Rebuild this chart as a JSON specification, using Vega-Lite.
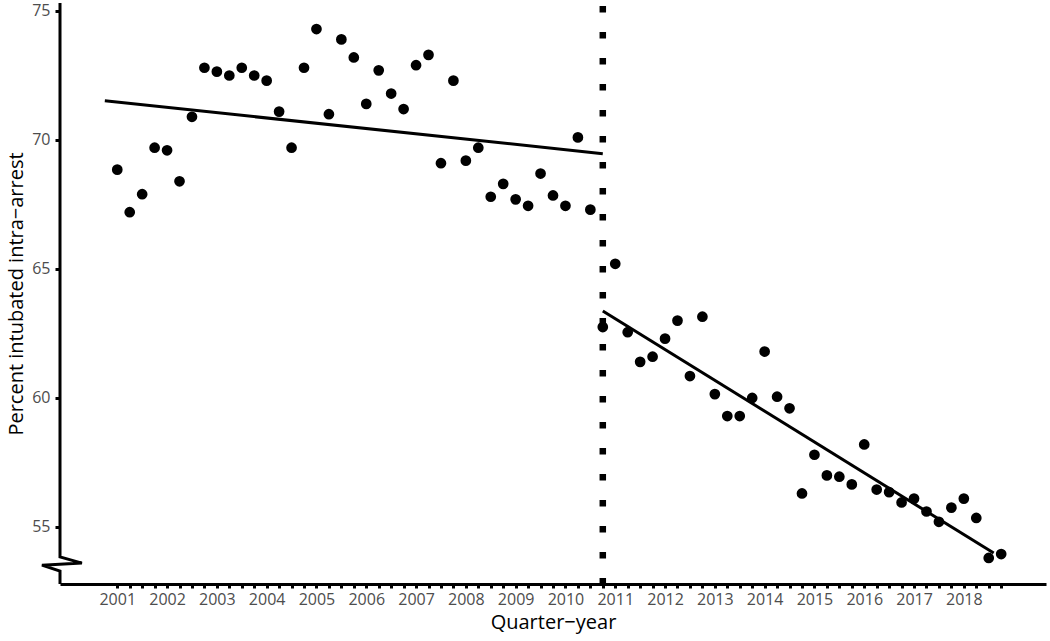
{
  "$schema": "https://vega.github.io/schema/vega-lite/v6.json",
  "width": 986,
  "height": 581,
  "autosize": {"type": "none"},
  "padding": {"left": 60, "top": 3, "right": 4, "bottom": 57},
  "background": "white",
  "config": {
    "view": {"stroke": null},
    "font": "Open Sans",
    "axis": {"grid": false, "labelFont": "Open Sans", "titleFont": "Open Sans", "titleFontWeight": "normal"}
  },
  "datasets": {
    "points": [
      {"q": 0, "pct": 68.85}, {"q": 1, "pct": 67.2}, {"q": 2, "pct": 67.9}, {"q": 3, "pct": 69.7},
      {"q": 4, "pct": 69.6}, {"q": 5, "pct": 68.4}, {"q": 6, "pct": 70.9}, {"q": 7, "pct": 72.8},
      {"q": 8, "pct": 72.65}, {"q": 9, "pct": 72.5}, {"q": 10, "pct": 72.8}, {"q": 11, "pct": 72.5},
      {"q": 12, "pct": 72.3}, {"q": 13, "pct": 71.1}, {"q": 14, "pct": 69.7}, {"q": 15, "pct": 72.8},
      {"q": 16, "pct": 74.3}, {"q": 17, "pct": 71.0}, {"q": 18, "pct": 73.9}, {"q": 19, "pct": 73.2},
      {"q": 20, "pct": 71.4}, {"q": 21, "pct": 72.7}, {"q": 22, "pct": 71.8}, {"q": 23, "pct": 71.2},
      {"q": 24, "pct": 72.9}, {"q": 25, "pct": 73.3}, {"q": 26, "pct": 69.1}, {"q": 27, "pct": 72.3},
      {"q": 28, "pct": 69.2}, {"q": 29, "pct": 69.7}, {"q": 30, "pct": 67.8}, {"q": 31, "pct": 68.3},
      {"q": 32, "pct": 67.7}, {"q": 33, "pct": 67.45}, {"q": 34, "pct": 68.7}, {"q": 35, "pct": 67.85},
      {"q": 36, "pct": 67.45}, {"q": 37, "pct": 70.1}, {"q": 38, "pct": 67.3}, {"q": 39, "pct": 62.75},
      {"q": 40, "pct": 65.2}, {"q": 41, "pct": 62.55}, {"q": 42, "pct": 61.4}, {"q": 43, "pct": 61.6},
      {"q": 44, "pct": 62.3}, {"q": 45, "pct": 63.0}, {"q": 46, "pct": 60.85}, {"q": 47, "pct": 63.15},
      {"q": 48, "pct": 60.15}, {"q": 49, "pct": 59.3}, {"q": 50, "pct": 59.3}, {"q": 51, "pct": 60.0},
      {"q": 52, "pct": 61.8}, {"q": 53, "pct": 60.05}, {"q": 54, "pct": 59.6}, {"q": 55, "pct": 56.3},
      {"q": 56, "pct": 57.8}, {"q": 57, "pct": 57.0}, {"q": 58, "pct": 56.95}, {"q": 59, "pct": 56.65},
      {"q": 60, "pct": 58.2}, {"q": 61, "pct": 56.45}, {"q": 62, "pct": 56.35}, {"q": 63, "pct": 55.95},
      {"q": 64, "pct": 56.1}, {"q": 65, "pct": 55.6}, {"q": 66, "pct": 55.2}, {"q": 67, "pct": 55.75},
      {"q": 68, "pct": 56.1}, {"q": 69, "pct": 55.35}, {"q": 70, "pct": 53.8}, {"q": 71, "pct": 53.95}
    ],
    "fits": [
      {"segment": "before", "q": -1, "pct": 71.52},
      {"segment": "before", "q": 39, "pct": 69.47},
      {"segment": "after", "q": 39, "pct": 63.37},
      {"segment": "after", "q": 70.4, "pct": 53.99}
    ],
    "yaxisline": [
      {"ord": 1, "q": -4.6, "pct": 75.31},
      {"ord": 2, "q": -4.6, "pct": 53.84},
      {"ord": 3, "q": -2.84, "pct": 53.6},
      {"ord": 4, "q": -6.05, "pct": 53.52},
      {"ord": 5, "q": -4.6, "pct": 53.29},
      {"ord": 6, "q": -4.6, "pct": 52.79}
    ],
    "interruption": [
      {"q": 39, "pct": 75.19, "bottom": 52.79}
    ]
  },
  "encoding": {
    "x": {
      "field": "q", "type": "quantitative",
      "scale": {"domain": [-4.6, 74.6], "nice": false, "zero": false},
      "axis": {
        "title": "Quarter−year",
        "values": [0,1,2,3,4,5,6,7,8,9,10,11,12,13,14,15,16,17,18,19,20,21,22,23,24,25,26,27,28,29,30,31,32,33,34,35,36,37,38,39,40,41,42,43,44,45,46,47,48,49,50,51,52,53,54,55,56,57,58,59,60,61,62,63,64,65,66,67,68,69,70,71],
        "labelExpr": "datum.value % 4 == 0 ? toString(2001 + datum.value / 4) : ''",
        "labelOverlap": false,
        "labelFlush": false,
        "labelBound": false,
        "labelFontSize": 16,
        "labelColor": "#4d4d4d",
        "labelPadding": 3,
        "tickSize": 4,
        "tickWidth": 3,
        "tickColor": "black",
        "domain": true,
        "domainWidth": 3,
        "domainColor": "black",
        "titleFontSize": 20,
        "titleColor": "black",
        "titlePadding": 5
      }
    },
    "y": {
      "field": "pct", "type": "quantitative",
      "scale": {"domain": [52.79, 75.31], "nice": false, "zero": false},
      "axis": {
        "title": "Percent intubated intra−arrest",
        "values": [55, 60, 65, 70, 75],
        "domain": false,
        "labelFontSize": 16,
        "labelColor": "#4d4d4d",
        "labelPadding": 5,
        "tickSize": 5,
        "tickWidth": 3,
        "tickColor": "black",
        "titleFontSize": 20,
        "titleColor": "black",
        "titlePadding": 5
      }
    }
  },
  "layer": [
    {
      "data": {"name": "yaxisline"},
      "mark": {"type": "line", "color": "black", "strokeWidth": 3, "clip": false, "strokeJoin": "miter"},
      "encoding": {
        "order": {"field": "ord", "type": "quantitative"}
      }
    },
    {
      "data": {"name": "interruption"},
      "mark": {"type": "rule", "color": "black", "strokeWidth": 6.5, "strokeDash": [6.5, 19.5], "strokeCap": "butt"},
      "encoding": {
        "y2": {"field": "bottom"}
      }
    },
    {
      "data": {"name": "fits"},
      "mark": {"type": "line", "color": "black", "strokeWidth": 3},
      "encoding": {
        "detail": {"field": "segment", "type": "nominal"}
      }
    },
    {
      "data": {"name": "points"},
      "mark": {"type": "circle", "color": "black", "opacity": 1, "size": 115},
      "encoding": {}
    }
  ]
}
